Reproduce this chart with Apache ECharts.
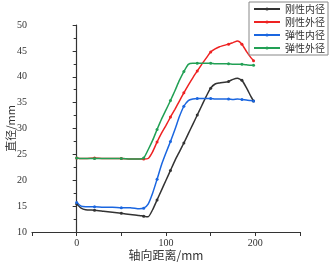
<!DOCTYPE html>
<html>
<head>
<meta charset="utf-8">
<script src="https://cdn.jsdelivr.net/npm/echarts@6/dist/echarts.min.js"></script>
<style>
    html, body { margin: 0; padding: 0; background: #fff; }
    #chart { width: 330px; height: 263px; }
</style>
</head>
<body>
<div id="chart"></div>
<script>
// 轴向距离 (mm)
const distance = [0, 5, 10, 20, 30, 40, 50, 60, 70, 75, 80, 85, 90, 95, 100, 105, 110, 115, 120, 125,
    130, 135, 140, 145, 150, 155, 160, 170, 175, 180, 185, 190, 195, 198];

const rigidInner = [15.4, 14.6, 14.3, 14.2, 14.0, 13.8, 13.6, 13.4, 13.2, 13.05, 12.95, 14.3, 16.2, 18.1, 20.0, 21.9, 23.8, 25.5, 27.2, 29.0,
    30.8, 32.6, 34.4, 36.2, 37.8, 38.6, 38.8, 39.1, 39.5, 39.7, 39.3, 37.9, 36.2, 35.3];
const rigidOuter = [24.3, 24.2, 24.2, 24.3, 24.2, 24.2, 24.2, 24.1, 24.1, 24.1, 24.2, 25.5, 27.4, 29.1, 30.6, 32.2, 33.7, 35.3, 36.9, 38.4,
    39.8, 41.1, 42.4, 43.6, 44.8, 45.4, 45.8, 46.3, 46.6, 46.9, 46.3, 44.9, 43.7, 43.1];
const elasticInner = [15.7, 15.0, 14.9, 14.9, 14.8, 14.8, 14.7, 14.7, 14.5, 14.6, 15.4, 17.5, 20.2, 23.0, 25.3, 27.5, 29.8, 32.3, 34.3, 35.4,
    35.7, 35.8, 35.8, 35.8, 35.8, 35.7, 35.7, 35.7, 35.6, 35.7, 35.6, 35.5, 35.4, 35.3];
const elasticOuter = [24.3, 24.2, 24.2, 24.2, 24.2, 24.2, 24.2, 24.1, 24.1, 24.3, 25.9, 27.7, 29.8, 31.8, 33.6, 35.4, 37.3, 39.3, 41.0, 42.4,
    42.6, 42.6, 42.6, 42.6, 42.6, 42.5, 42.5, 42.5, 42.4, 42.4, 42.4, 42.3, 42.2, 42.2];

const seriesNames = ["刚性内径", "刚性外径", "弹性内径", "弹性外径"];
const seriesColors = ["#333333", "#ee2222", "#1a66e0", "#22a055"];
const xTickLabels = ["0", "100", "200"];

const serifFont = "'Liberation Serif', 'Noto Sans CJK SC', serif";
const cjkFont = "'Noto Sans CJK SC'";

const toPairs = ys => distance.map((x, i) => [x, ys[i]]);

const makeSeries = (name, ys, color) => ({
    name: name,
    type: "line",
    data: toPairs(ys),
    smooth: 0.2,
    symbol: "circle",
    symbolSize: (val, params) => (params.dataIndex % 3 === 0 ? 3 : 0),
    showAllSymbol: true,
    lineStyle: { width: 1.5, color: color },
    itemStyle: { color: color }
});

const chart = echarts.init(document.getElementById("chart"));

chart.setOption({
    animation: false,
    textStyle: { fontFamily: serifFont },
    grid: { left: 32, right: 30, top: 25, bottom: 31, outerBoundsMode: "none", containLabel: false },
    legend: {
        orient: "vertical",
        right: 2,
        top: 2,
        padding: [1, 3, 1, 4],
        itemGap: 1,
        itemWidth: 26,
        itemHeight: 4,
        borderColor: "#888",
        borderWidth: 1,
        textStyle: { fontSize: 10, lineHeight: 12, color: "#333", fontFamily: cjkFont },
        data: seriesNames
    },
    xAxis: {
        type: "value",
        min: -50,
        max: 250,
        interval: 50,
        name: "轴向距离/mm",
        nameLocation: "middle",
        nameGap: 17,
        nameMoveOverlap: false,
        nameTextStyle: { fontSize: 12, color: "#333", fontFamily: cjkFont },
        axisLine: { lineStyle: { color: "#333", width: 1.2 } },
        axisTick: { inside: false, length: 4 },
        axisLabel: {
            fontSize: 10,
            color: "#333",
            margin: 6,
            formatter: v => (xTickLabels.includes(String(v)) ? String(v) : "")
        },
        splitLine: { show: false }
    },
    yAxis: {
        type: "value",
        min: 10,
        max: 50,
        interval: 5,
        name: "直径/mm",
        nameLocation: "middle",
        nameGap: 16,
        nameMoveOverlap: false,
        nameTextStyle: { fontSize: 11, color: "#333", fontFamily: cjkFont },
        axisLine: { show: true, lineStyle: { color: "#333", width: 1.2 } },
        axisTick: { show: true, length: 4 },
        minorTick: { show: true, splitNumber: 2, length: 3 },
        axisLabel: { fontSize: 10, color: "#333", margin: 5 },
        splitLine: { show: false }
    },
    series: [
        makeSeries(seriesNames[0], rigidInner, seriesColors[0]),
        makeSeries(seriesNames[1], rigidOuter, seriesColors[1]),
        makeSeries(seriesNames[2], elasticInner, seriesColors[2]),
        makeSeries(seriesNames[3], elasticOuter, seriesColors[3])
    ]
});
</script>
</body>
</html>
